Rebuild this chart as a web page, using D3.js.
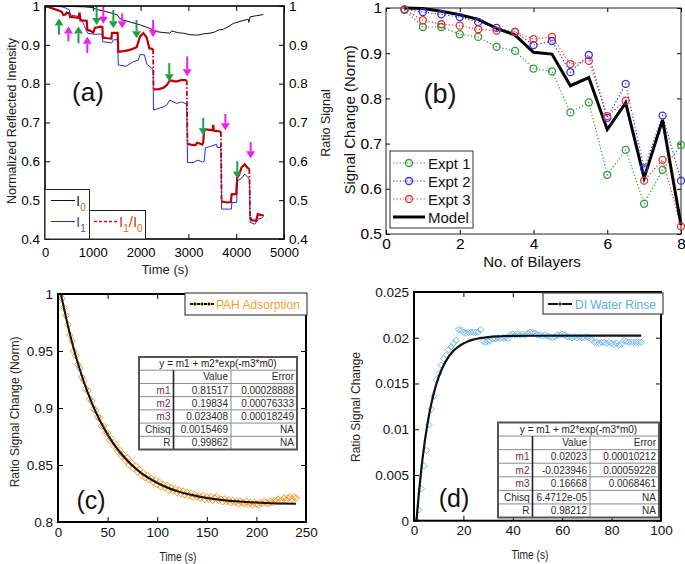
<!DOCTYPE html>
<html><head><meta charset="utf-8">
<script src="https://cdn.jsdelivr.net/npm/d3@7"></script>
<style>body{margin:0;background:#fff}</style>
</head><body><svg id="chart" width="685" height="564"></svg>
<script>
// ---------------- DATA ----------------
// Panel (a): time (s) vs normalized intensity
const aTicksX = [0, 1000, 2000, 3000, 4000, 5000];
const aTicksY = [0.4, 0.5, 0.6, 0.7, 0.8, 0.9, 1];
const aI0 = [[0,1.0],[400,0.999],[800,0.998],[1000,0.996],[1081,0.991],[1200,0.988],[1360,0.983],[1513,0.977],[1560,0.968],[1639,0.964],[1800,0.958],[1918,0.954],[2000,0.951],[2197,0.942],[2336,0.934],[2450,0.932],[2615,0.930],[2650,0.936],[2700,0.934],[2789,0.931],[2900,0.930],[3033,0.926],[3200,0.925],[3300,0.928],[3452,0.930],[3550,0.933],[3626,0.938],[3731,0.940],[3850,0.948],[3939,0.955],[4100,0.961],[4253,0.966],[4265,0.958],[4280,0.966],[4290,0.972],[4420,0.975],[4567,0.978]];
const aI1 = [[0,1.0],[200,0.999],[349,0.998],[430,0.995],[509,0.990],[523,0.977],[700,0.973],[732,0.972],[780,0.960],[820,0.950],[890,0.930],[1046,0.927],[1151,0.928],[1200,0.925],[1210,0.908],[1395,0.905],[1430,0.913],[1520,0.913],[1534,0.848],[1700,0.845],[1850,0.857],[1950,0.860],[1990,0.875],[2080,0.874],[2130,0.850],[2183,0.845],[2262,0.837],[2270,0.732],[2476,0.740],[2545,0.745],[2615,0.758],[2700,0.752],[2755,0.749],[2859,0.753],[2964,0.747],[2982,0.597],[3100,0.597],[3200,0.603],[3290,0.598],[3330,0.600],[3357,0.635],[3450,0.638],[3590,0.644],[3600,0.636],[3680,0.635],[3695,0.477],[3900,0.477],[3910,0.494],[4010,0.494],[4025,0.550],[4100,0.555],[4180,0.567],[4250,0.558],[4280,0.552],[4290,0.443],[4390,0.438],[4460,0.451],[4560,0.455]];
const aRatio = [[0,1.000],[100,0.996],[200,0.992],[300,0.988],[349,0.985],[384,0.977],[430,0.978],[453,0.983],[509,0.982],[523,0.972],[600,0.971],[700,0.969],[725,0.983],[740,0.963],[872,0.962],[886,0.939],[950,0.936],[1011,0.932],[1046,0.944],[1100,0.945],[1151,0.947],[1200,0.946],[1210,0.919],[1300,0.917],[1390,0.916],[1400,0.931],[1520,0.931],[1534,0.882],[1650,0.884],[1778,0.887],[1918,0.894],[1987,0.921],[2057,0.930],[2127,0.919],[2183,0.891],[2262,0.889],[2270,0.785],[2380,0.786],[2476,0.789],[2545,0.796],[2615,0.809],[2700,0.806],[2755,0.806],[2859,0.809],[2964,0.809],[2982,0.645],[3050,0.643],[3150,0.642],[3180,0.648],[3240,0.646],[3290,0.643],[3310,0.648],[3330,0.682],[3450,0.681],[3510,0.680],[3520,0.694],[3530,0.679],[3600,0.678],[3680,0.676],[3695,0.497],[3800,0.494],[3890,0.495],[3905,0.515],[4000,0.516],[4020,0.558],[4060,0.565],[4110,0.584],[4180,0.592],[4240,0.583],[4275,0.580],[4290,0.456],[4330,0.448],[4420,0.447],[4450,0.464],[4580,0.460]];
// arrows: [time, tail value, head value]
const aArrowsGreen = [[293,0.926,0.968],[700,0.904,0.947],[1080,0.998,0.951],[1430,0.990,0.943],[1915,0.964,0.917],[2600,0.853,0.806],[3310,0.712,0.667],[4023,0.600,0.556]];
const aArrowsMagenta = [[490,0.909,0.947],[885,0.879,0.921],[1220,0.998,0.954],[1615,0.981,0.943],[2262,0.964,0.920],[2975,0.870,0.819],[3773,0.722,0.680],[4303,0.650,0.608]];

// Panel (b): bilayers
const bBilayers = [0.5,1,1.5,2,2.5,3,3.5,4,4.5,5,5.5,6,6.5,7,7.5,8];
const bExpt1 = [0.996,0.958,0.958,0.942,0.936,0.914,0.905,0.866,0.860,0.769,0.791,0.631,0.686,0.567,0.642,0.697];
const bExpt2 = [0.997,0.991,0.986,0.980,0.969,0.956,0.947,0.918,0.927,0.858,0.896,0.757,0.832,0.645,0.762,0.618];
const bExpt3 = [0.997,0.973,0.964,0.961,0.953,0.950,0.947,0.931,0.936,0.876,0.883,0.761,0.795,0.618,0.664,0.517];
const bModel = [1.000,0.999,0.993,0.985,0.975,0.955,0.940,0.902,0.898,0.828,0.846,0.731,0.790,0.624,0.752,0.520];
const bTicksX = [0,2,4,6,8];
const bTicksY = [0.5,0.6,0.7,0.8,0.9,1];

// Panel (c): PAH adsorption [time, ratio]
const cData = [[0,1.000],[2,0.999],[4,0.996],[6,0.988],[8,0.981],[10,0.973],[12,0.964],[14,0.959],[16,0.950],[18,0.946],[20,0.938],[22,0.935],[24,0.927],[26,0.924],[28,0.917],[30,0.915],[32,0.908],[34,0.906],[36,0.899],[38,0.898],[40,0.892],[42,0.891],[44,0.884],[46,0.884],[48,0.878],[50,0.878],[52,0.872],[54,0.873],[56,0.867],[58,0.868],[60,0.862],[62,0.863],[64,0.858],[66,0.859],[68,0.854],[70,0.856],[72,0.850],[74,0.852],[76,0.847],[78,0.849],[80,0.844],[82,0.846],[84,0.841],[86,0.843],[88,0.839],[90,0.841],[92,0.837],[94,0.838],[96,0.835],[98,0.837],[100,0.833],[102,0.835],[104,0.831],[106,0.833],[108,0.830],[110,0.832],[112,0.828],[114,0.830],[116,0.827],[118,0.829],[120,0.826],[122,0.828],[124,0.825],[126,0.827],[128,0.824],[130,0.826],[132,0.823],[134,0.825],[136,0.822],[138,0.824],[140,0.822],[142,0.823],[144,0.821],[146,0.823],[148,0.820],[150,0.822],[152,0.820],[154,0.822],[156,0.819],[158,0.821],[160,0.822],[162,0.819],[164,0.820],[166,0.818],[168,0.820],[170,0.818],[172,0.819],[174,0.817],[176,0.819],[178,0.817],[180,0.818],[182,0.816],[184,0.818],[186,0.817],[188,0.816],[190,0.818],[192,0.816],[194,0.817],[196,0.815],[198,0.817],[200,0.816],[202,0.815],[204,0.817],[206,0.816],[208,0.818],[210,0.817],[212,0.816],[214,0.818],[216,0.817],[218,0.819],[220,0.818],[222,0.820],[224,0.818],[226,0.819],[228,0.821],[230,0.819],[232,0.821],[234,0.822],[236,0.820],[238,0.822],[240,0.821]];
const cFit = [[3,1.000],[5,0.9916],[8,0.9797],[10,0.9721],[13,0.9615],[16,0.9516],[20,0.9394],[25,0.9257],[30,0.9135],[35,0.9026],[40,0.8930],[45,0.8844],[50,0.8767],[55,0.8699],[60,0.8639],[70,0.8537],[80,0.8457],[90,0.8393],[100,0.8343],[110,0.8303],[120,0.8271],[135,0.8236],[150,0.8211],[165,0.8193],[180,0.8181],[200,0.8170],[220,0.8163],[240,0.8159]];
const cTicksX = [0,50,100,150,200,250];
const cTicksY = [0.8,0.85,0.9,0.95,1];
const cTable = [["m1","0.81517","0.00028888"],["m2","0.19834","0.00076333"],["m3","0.023408","0.00018249"],["Chisq","0.0015469","NA"],["R","0.99862","NA"]];

// Panel (d): DI water rinse [time, ratio change]
const dData = [[0,0.0000],[1,0.0000],[2,0.0012],[3,0.0035],[4,0.0060],[5,0.0077],[6,0.0105],[7,0.0122],[8,0.0136],[9,0.0154],[10,0.0161],[11,0.0170],[12,0.0177],[13,0.0181],[14,0.0187],[15,0.0190],[16,0.0194],[17,0.0197],[18,0.0209],[19,0.0208],[20,0.0206],[21,0.0205],[22,0.0206],[23,0.0206],[24,0.0206],[25,0.0206],[26,0.0206],[27,0.0209],[28,0.0196],[29,0.0195],[30,0.0196],[31,0.0197],[32,0.0199],[33,0.0199],[34,0.0200],[35,0.0199],[36,0.0200],[37,0.0200],[38,0.0199],[39,0.0203],[40,0.0204],[41,0.0203],[42,0.0204],[43,0.0203],[44,0.0204],[45,0.0203],[46,0.0205],[47,0.0206],[48,0.0206],[49,0.0205],[50,0.0203],[51,0.0203],[52,0.0202],[53,0.0203],[54,0.0202],[55,0.0201],[56,0.0200],[57,0.0201],[58,0.0203],[59,0.0203],[60,0.0204],[61,0.0203],[62,0.0201],[63,0.0201],[64,0.0200],[65,0.0201],[66,0.0200],[67,0.0201],[68,0.0200],[69,0.0200],[70,0.0201],[71,0.0200],[72,0.0198],[73,0.0195],[74,0.0195],[75,0.0194],[76,0.0195],[77,0.0195],[78,0.0194],[79,0.0195],[80,0.0194],[81,0.0193],[82,0.0194],[83,0.0192],[84,0.0193],[85,0.0197],[86,0.0196],[87,0.0195],[88,0.0195],[89,0.0195],[90,0.0195],[91,0.0195],[92,0.0195]];
const dFit = [[1,0.0],[2,0.00307],[3,0.00571],[4,0.00794],[5,0.00982],[6,0.01142],[7,0.01277],[8,0.01392],[9,0.01489],[10,0.01571],[12,0.01699],[14,0.01791],[16,0.01857],[18,0.01904],[20,0.01938],[22,0.01962],[24,0.01979],[26,0.01992],[28,0.02000],[30,0.02007],[35,0.02016],[40,0.0202],[50,0.02022],[92,0.02023]];
const dTicksX = [0,20,40,60,80,100];
const dTicksY = [0,0.005,0.01,0.015,0.02,0.025];
const dTable = [["m1","0.02023","0.00010212"],["m2","-0.023946","0.00059228"],["m3","0.16668","0.0068461"],["Chisq","6.4712e-05","NA"],["R","0.98212","NA"]];
const tableHeader = "y = m1 + m2*exp(-m3*m0)";

// ---------------- DRAWING ----------------
const FONT = "'Liberation Sans', Arial, Helvetica, sans-serif";
const svg = d3.select("#chart").attr("font-family", FONT);
svg.append("rect").attr("width",685).attr("height",564).attr("fill","#fff");
const fmt = d3.format("~g");

function styleAxis(g, size, color) {
  g.attr("font-size", size).attr("font-family", FONT);
  g.select(".domain").remove();
  g.selectAll("line").attr("stroke", "#000");
  g.selectAll("text").attr("fill", color || "#000");
}
function addClip(id, x0, y0, x1, y1) {
  svg.append("clipPath").attr("id", id).append("rect")
    .attr("x", x0).attr("y", y0).attr("width", x1 - x0).attr("height", y1 - y0);
}
function frameAxes(x, y, tx, ty, opts) {
  const [x0, x1] = x.range(), [y1, y0] = y.range();
  const ts = opts.tick, fs = opts.fs, pad = opts.pad || 4;
  const b = svg.append("g").attr("transform", `translate(0,${y1})`)
    .call(d3.axisBottom(x).tickValues(tx).tickSize(-ts).tickSizeOuter(0).tickPadding(opts.bpad || pad).tickFormat(fmt));
  styleAxis(b, opts.bfs || fs, opts.color);
  const t = svg.append("g").attr("transform", `translate(0,${y0})`)
    .call(d3.axisTop(x).tickValues(tx).tickSize(-ts).tickSizeOuter(0).tickFormat(""));
  styleAxis(t, fs);
  const l = svg.append("g").attr("transform", `translate(${x0},0)`)
    .call(d3.axisLeft(y).tickValues(ty).tickSize(-ts).tickSizeOuter(0).tickPadding(pad).tickFormat(fmt));
  styleAxis(l, fs, opts.color);
  const r = svg.append("g").attr("transform", `translate(${x1},0)`)
    .call(d3.axisRight(y).tickValues(ty).tickSize(-ts).tickSizeOuter(0).tickPadding(pad).tickFormat(opts.rightLabels ? fmt : ""));
  styleAxis(r, fs, opts.color);
  svg.append("rect").attr("x", x0).attr("y", y0).attr("width", x1 - x0).attr("height", y1 - y0)
    .attr("fill", "none").attr("stroke", opts.frameColor || "#000").attr("stroke-width", opts.sw);
  return {b, l, r};
}

// ===== Panel (a) =====
const ax = d3.scaleLinear().domain([0, 5000]).range([45, 284]);
const ay = d3.scaleLinear().domain([0.4, 1]).range([239, 6]);
addClip("clipA", 45, 6, 284, 239);
const lineA = d3.line().x(d => ax(d[0])).y(d => ay(d[1]));
const gA = svg.append("g").attr("clip-path", "url(#clipA)");
gA.append("path").attr("d", lineA(aI0)).attr("fill", "none").attr("stroke", "#111").attr("stroke-width", 1);
gA.append("path").attr("d", lineA(aI1)).attr("fill", "none").attr("stroke", "#2a2ad6").attr("stroke-width", 1);
// ratio: solid plateaus, dashed jumps
let run = [aRatio[0]];
for (let i = 1; i < aRatio.length; i++) {
  const p = aRatio[i - 1], q = aRatio[i];
  if (Math.abs(q[1] - p[1]) > 0.05) {
    gA.append("path").attr("d", lineA(run)).attr("fill", "none").attr("stroke", "#c00000").attr("stroke-width", 2.2);
    gA.append("path").attr("d", lineA([p, q])).attr("fill", "none").attr("stroke", "#c00000").attr("stroke-width", 1.8).attr("stroke-dasharray", "5,2,1.5,2");
    run = [q];
  } else run.push(q);
}
gA.append("path").attr("d", lineA(run)).attr("fill", "none").attr("stroke", "#c00000").attr("stroke-width", 2.2);

function arrow(g, d, color) {
  const x = ax(d[0]), y1 = ay(d[1]), y2 = ay(d[2]);
  const dir = Math.sign(y2 - y1), hl = 7, hw = 4.5;
  g.append("line").attr("x1", x).attr("x2", x).attr("y1", y1).attr("y2", y2 - dir * hl)
    .attr("stroke", color).attr("stroke-width", 2);
  g.append("path").attr("d", `M${x - hw},${y2 - dir * hl}L${x + hw},${y2 - dir * hl}L${x},${y2}Z`).attr("fill", color);
}
const gArr = svg.append("g");
aArrowsGreen.forEach(d => arrow(gArr, d, "#1f9e4a"));
aArrowsMagenta.forEach(d => arrow(gArr, d, "#f01cf0"));

frameAxes(ax, ay, aTicksX, aTicksY, {tick: 5, fs: 13.5, bfs: 13, sw: 1.6, rightLabels: true, pad: 5, bpad: 9});
svg.append("text").attr("x", 88).attr("y", 101).attr("text-anchor", "middle").attr("font-size", 26).attr("fill", "#111").text("(a)");
svg.append("text").attr("transform", "translate(16,121) rotate(-90)").attr("text-anchor", "middle").attr("font-size", 12.5).attr("fill", "#222").text("Normalized Reflected Inensity");
svg.append("text").attr("transform", "translate(330,123) rotate(-90)").attr("text-anchor", "middle").attr("font-size", 12.5).attr("fill", "#222").text("Ratio Signal");
svg.append("text").attr("x", 165).attr("y", 274).attr("text-anchor", "middle").attr("font-size", 13).attr("fill", "#222").text("Time (s)");
// legend (a)
svg.append("rect").attr("x", 45).attr("y", 189.5).attr("width", 44.5).attr("height", 49.5).attr("fill", "#fff").attr("stroke", "#222").attr("stroke-width", 1);
svg.append("rect").attr("x", 89.5).attr("y", 210.5).attr("width", 56).attr("height", 28.5).attr("fill", "#fff").attr("stroke", "#222").attr("stroke-width", 1);
svg.append("line").attr("x1", 51).attr("x2", 75).attr("y1", 200.5).attr("y2", 200.5).attr("stroke", "#111").attr("stroke-width", 1);
svg.append("line").attr("x1", 51).attr("x2", 75).attr("y1", 221.5).attr("y2", 221.5).attr("stroke", "#2a2ad6").attr("stroke-width", 1);
svg.append("line").attr("x1", 94).attr("x2", 118).attr("y1", 221.5).attr("y2", 221.5).attr("stroke", "#d01010").attr("stroke-width", 1.5).attr("stroke-dasharray", "3,2");
function subLabel(x, y, parts) {
  const t = svg.append("text").attr("x", x).attr("y", y).attr("font-size", 15);
  parts.forEach(p => {
    t.append("tspan").attr("font-size", p.sub ? 10 : 15).attr("dy", p.dy || 0).attr("fill", p.c).text(p.t);
  });
}
subLabel(76, 206, [{t: "I", c: "#333"}, {t: "0", c: "#c06020", sub: 1, dy: 5}]);
subLabel(76, 227, [{t: "I", c: "#4a4ac8"}, {t: "1", c: "#4a4ac8", sub: 1, dy: 5}]);
subLabel(119, 227, [{t: "I", c: "#d04020"}, {t: "1", c: "#d07020", sub: 1, dy: 5}, {t: "/I", c: "#d04020", dy: -5}, {t: "0", c: "#d07020", sub: 1, dy: 5}]);

// ===== Panel (b) =====
const bx = d3.scaleLinear().domain([0, 8]).range([386, 681]);
const by = d3.scaleLinear().domain([0.5, 1]).range([234, 8]);
const lineB = d3.line().x((d, i) => bx(bBilayers[i])).y(d => by(d));
const bSeries = [
  {v: bExpt1, c: "#2f9a2f", name: "Expt 1"},
  {v: bExpt2, c: "#3030e8", name: "Expt 2"},
  {v: bExpt3, c: "#e83030", name: "Expt 3"}
];
frameAxes(bx, by, bTicksX, bTicksY, {tick: 4, fs: 15.5, sw: 1, pad: 4, frameColor: "#222"});
bSeries.forEach(s => {
  svg.append("path").attr("d", lineB(s.v)).attr("fill", "none").attr("stroke", s.c).attr("stroke-width", 1.2).attr("stroke-dasharray", "1.2,2.2");
});
svg.append("path").attr("d", lineB(bModel)).attr("fill", "none").attr("stroke", "#000").attr("stroke-width", 3);
bSeries.forEach(s => {
  svg.append("g").selectAll("circle").data(s.v).join("circle")
    .attr("cx", (d, i) => bx(bBilayers[i])).attr("cy", d => by(d)).attr("r", 3.5)
    .attr("fill", "none").attr("stroke", s.c).attr("stroke-width", 1.3);
});
svg.append("text").attr("x", 440).attr("y", 103).attr("text-anchor", "middle").attr("font-size", 27).attr("fill", "#111").text("(b)");
svg.append("text").attr("transform", "translate(355,120) rotate(-90)").attr("text-anchor", "middle").attr("font-size", 15).attr("fill", "#111").text("Signal Change (Norm)");
svg.append("text").attr("x", 532).attr("y", 267).attr("text-anchor", "middle").attr("font-size", 15).attr("fill", "#111").text("No. of Bilayers");
// legend (b)
svg.append("rect").attr("x", 390).attr("y", 151).attr("width", 83).attr("height", 77).attr("fill", "#fff").attr("stroke", "#333").attr("stroke-width", 1);
const bLegY = [163, 181, 199, 217];
bSeries.forEach((s, i) => {
  const y = bLegY[i];
  svg.append("line").attr("x1", 393).attr("x2", 425).attr("y1", y).attr("y2", y).attr("stroke", s.c).attr("stroke-width", 1.2).attr("stroke-dasharray", "1.2,2.2");
  svg.append("circle").attr("cx", 409).attr("cy", y).attr("r", 3.5).attr("fill", "none").attr("stroke", s.c).attr("stroke-width", 1.3);
  svg.append("text").attr("x", 428).attr("y", y + 5.5).attr("font-size", 15).attr("fill", "#111").text(s.name);
});
svg.append("line").attr("x1", 393).attr("x2", 425).attr("y1", bLegY[3]).attr("y2", bLegY[3]).attr("stroke", "#000").attr("stroke-width", 3);
svg.append("text").attr("x", 428).attr("y", bLegY[3] + 5.5).attr("font-size", 15).attr("fill", "#111").text("Model");

// ===== table helper =====
function drawTable(x0, y0, w, h, cols, rows) {
  const g = svg.append("g");
  const rh = h / (rows.length + 2);
  g.append("rect").attr("x", x0).attr("y", y0).attr("width", w).attr("height", h).attr("fill", "#fff");
  g.append("text").attr("x", x0 + w / 2).attr("y", y0 + rh * 0.5 + 3.5).attr("text-anchor", "middle").attr("font-size", 10).attr("fill", "#222").text(tableHeader);
  for (let r = 1; r <= rows.length + 1; r++) {
    g.append("line").attr("x1", x0).attr("x2", x0 + w).attr("y1", y0 + r * rh).attr("y2", y0 + r * rh).attr("stroke", "#8a8a8a").attr("stroke-width", 1);
  }
  g.append("line").attr("x1", cols[0]).attr("x2", cols[0]).attr("y1", y0 + rh).attr("y2", y0 + h).attr("stroke", "#222").attr("stroke-width", 1.6);
  g.append("line").attr("x1", cols[1]).attr("x2", cols[1]).attr("y1", y0 + rh).attr("y2", y0 + h).attr("stroke", "#8a8a8a").attr("stroke-width", 1);
  const right = [cols[0] - 3, cols[1] - 3, x0 + w - 3];
  const allRows = [["", "Value", "Error"]].concat(rows);
  allRows.forEach((row, i) => {
    const yy = y0 + rh * (i + 1.5) + 3.5;
    row.forEach((cell, j) => {
      g.append("text").attr("x", right[j]).attr("y", yy).attr("text-anchor", "end").attr("font-size", 10)
        .attr("fill", (j === 0 && i >= 1 && i <= 3) ? "#7a2848" : "#2a2a2a").text(cell);
    });
  });
  g.append("rect").attr("x", x0).attr("y", y0).attr("width", w).attr("height", h).attr("fill", "none").attr("stroke", "#555").attr("stroke-width", 2);
}
function diamond(g, x, y, s, color) {
  g.append("path").attr("d", `M${x},${y - s}L${x + s},${y}L${x},${y + s}L${x - s},${y}Z`).attr("fill", "none").attr("stroke", color).attr("stroke-width", 1);
}

// ===== Panel (c) =====
const cx = d3.scaleLinear().domain([0, 250]).range([58, 306]);
const cy = d3.scaleLinear().domain([0.8, 1.0]).range([522, 294]);
addClip("clipC", 58, 294, 306, 522);
const gC = svg.append("g").attr("clip-path", "url(#clipC)");
gC.selectAll("path.pt").data(cData).join("path").attr("class", "pt")
  .attr("d", d => { const x = cx(d[0]), y = cy(d[1]), s = 3.4; return `M${x},${y - s}L${x + s},${y}L${x},${y + s}L${x - s},${y}Z`; })
  .attr("fill", "none").attr("stroke", "#f29a2e").attr("stroke-width", 1);
const lineC = d3.line().x(d => cx(d[0])).y(d => cy(d[1])).curve(d3.curveMonotoneX);
gC.append("path").attr("d", lineC(cFit)).attr("fill", "none").attr("stroke", "#111").attr("stroke-width", 2);
frameAxes(cx, cy, cTicksX, cTicksY, {tick: 5, fs: 13.5, sw: 2, pad: 5, color: "#111"});
drawTable(139, 357, 158, 92.5, [173.5, 231], cTable);
svg.append("text").attr("x", 91).attr("y", 509).attr("text-anchor", "middle").attr("font-size", 25).attr("fill", "#111").text("(c)");
svg.append("text").attr("transform", "translate(19,412) rotate(-90)").attr("text-anchor", "middle").attr("font-size", 12).attr("fill", "#222").text("Ratio Signal Change (Norm)");
svg.append("text").attr("x", 178).attr("y", 561).attr("text-anchor", "middle").attr("font-size", 12).attr("fill", "#222").attr("textLength", 37).attr("lengthAdjust", "spacingAndGlyphs").text("Time (s)");
// legend (c)
svg.append("rect").attr("x", 185).attr("y", 293).attr("width", 122).attr("height", 22).attr("fill", "#fff").attr("stroke", "#444").attr("stroke-width", 1.2);
svg.append("line").attr("x1", 190).attr("x2", 214).attr("y1", 304).attr("y2", 304).attr("stroke", "#111").attr("stroke-width", 2);
[195, 202, 209].forEach(x => diamond(svg, x, 304, 2, "#f29a2e"));
svg.append("text").attr("x", 216).attr("y", 308.5).attr("font-size", 12).attr("fill", "#f5a030").text("PAH Adsorption");

// ===== Panel (d) =====
const dx = d3.scaleLinear().domain([0, 100]).range([414, 661]);
const dy = d3.scaleLinear().domain([0, 0.025]).range([520.7, 292]);
addClip("clipD", 414, 292, 661, 521);
const gD = svg.append("g").attr("clip-path", "url(#clipD)");
gD.selectAll("path.pt").data(dData).join("path").attr("class", "pt")
  .attr("d", d => { const x = dx(d[0]), y = dy(d[1]), s = 3.2; return `M${x},${y - s}L${x + s},${y}L${x},${y + s}L${x - s},${y}Z`; })
  .attr("fill", "none").attr("stroke", "#72bcec").attr("stroke-width", 1);
const lineD = d3.line().x(d => dx(d[0])).y(d => dy(d[1])).curve(d3.curveMonotoneX);
gD.append("path").attr("d", lineD(dFit)).attr("fill", "none").attr("stroke", "#111").attr("stroke-width", 2.2);
frameAxes(dx, dy, dTicksX, dTicksY, {tick: 5, fs: 13.5, sw: 2, pad: 5, color: "#111"});
drawTable(498, 422.5, 161, 95, [532.5, 590], dTable);
svg.append("text").attr("x", 454).attr("y", 507).attr("text-anchor", "middle").attr("font-size", 25).attr("fill", "#111").text("(d)");
svg.append("text").attr("transform", "translate(360,407) rotate(-90)").attr("text-anchor", "middle").attr("font-size", 12).attr("fill", "#222").text("Ratio Signal Change");
svg.append("text").attr("x", 530).attr("y", 559).attr("text-anchor", "middle").attr("font-size", 12).attr("fill", "#222").attr("textLength", 37).attr("lengthAdjust", "spacingAndGlyphs").text("Time (s)");
// legend (d)
svg.append("rect").attr("x", 543).attr("y", 293).attr("width", 120).attr("height", 21).attr("fill", "#fff").attr("stroke", "#444").attr("stroke-width", 1.2);
svg.append("line").attr("x1", 548).attr("x2", 572).attr("y1", 304).attr("y2", 304).attr("stroke", "#111").attr("stroke-width", 2);
diamond(svg, 560, 304, 2, "#72bcec");
svg.append("text").attr("x", 575).attr("y", 308.5).attr("font-size", 12).attr("fill", "#5aaee8").text("DI Water Rinse");
</script></body></html>
